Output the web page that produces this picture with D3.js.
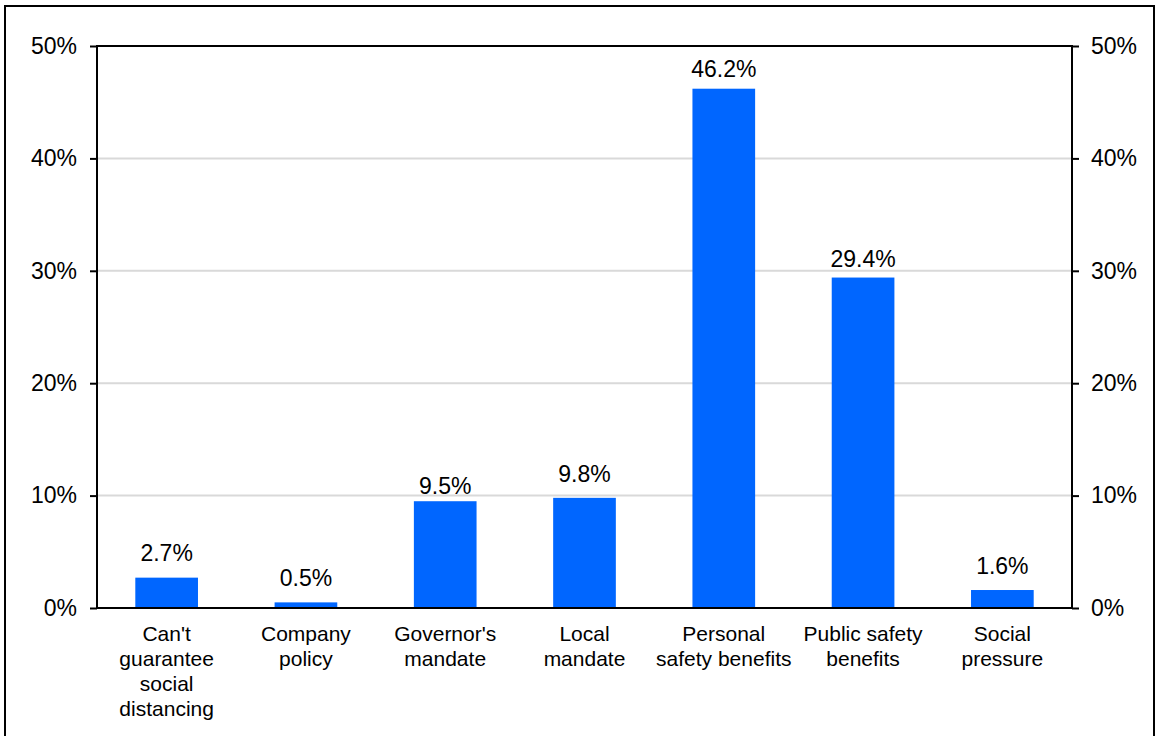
<!DOCTYPE html>
<html>
<head>
<meta charset="utf-8">
<script src="https://cdn.jsdelivr.net/npm/d3@7"></script>
<style>
  html, body { margin: 0; padding: 0; background: #fff; }
  svg { display: block; }
  text { font-family: "Liberation Sans", Arial, sans-serif; fill: #000; }
</style>
</head>
<body>
<svg id="chart" width="1159" height="736"></svg>
<script>
// Reasons given, share of respondents (%)
const categories = [
  ["Can't", "guarantee", "social", "distancing"],
  ["Company", "policy"],
  ["Governor's", "mandate"],
  ["Local", "mandate"],
  ["Personal", "safety benefits"],
  ["Public safety", "benefits"],
  ["Social", "pressure"]
];
const values = [2.7, 0.5, 9.5, 9.8, 46.2, 29.4, 1.6];
const tickValues = [0, 10, 20, 30, 40, 50];
// Space between each value label's baseline and its bar top (px)
const labelGap = [17, 16, 7, 16, 12, 11, 16];

const svg = d3.select("#chart");
const H = 736;
const m = { left: 97, right: 1072, top: 46, bottom: 608 };

// Outer frame
svg.append("rect")
  .attr("x", 5).attr("y", 6)
  .attr("width", 1149).attr("height", H)
  .attr("fill", "none").attr("stroke", "#000").attr("stroke-width", 2);

const x = d3.scaleBand()
  .domain(d3.range(categories.length))
  .range([m.left, m.right])
  .paddingInner(0.55).paddingOuter(0.275);

const y = d3.scaleLinear().domain([0, 50]).range([m.bottom, m.top]);

// Horizontal gridlines
svg.append("g").selectAll("line")
  .data(tickValues.filter(t => t > 0 && t < 50))
  .join("line")
  .attr("x1", m.left).attr("x2", m.right)
  .attr("y1", d => y(d)).attr("y2", d => y(d))
  .attr("stroke", "#d9d9d9").attr("stroke-width", 2);

// Bars
svg.append("g").selectAll("rect")
  .data(values)
  .join("rect")
  .attr("x", (d, i) => x(i))
  .attr("width", x.bandwidth())
  .attr("y", d => y(d))
  .attr("height", d => y(0) - y(d))
  .attr("fill", "#0066ff");

// Value labels
svg.append("g").selectAll("text")
  .data(values)
  .join("text")
  .attr("x", (d, i) => x(i) + x.bandwidth() / 2)
  .attr("y", (d, i) => y(d) - labelGap[i])
  .attr("text-anchor", "middle")
  .attr("font-size", 23)
  .text(d => d.toFixed(1) + "%");

// Plot frame
svg.append("rect")
  .attr("x", m.left).attr("y", m.top)
  .attr("width", m.right - m.left).attr("height", m.bottom - m.top)
  .attr("fill", "none").attr("stroke", "#000").attr("stroke-width", 2);

// Left and right value axes
const fmt = d => d + "%";
const leftAxis = svg.append("g")
  .attr("transform", `translate(${m.left},0)`)
  .call(d3.axisLeft(y).tickValues(tickValues).tickFormat(fmt).tickSize(7).tickPadding(13));
const rightAxis = svg.append("g")
  .attr("transform", `translate(${m.right},0)`)
  .call(d3.axisRight(y).tickValues(tickValues).tickFormat(fmt).tickSize(7).tickPadding(12));
[leftAxis, rightAxis].forEach(g => {
  g.select(".domain").remove();
  g.selectAll(".tick line").attr("stroke", "#000").attr("stroke-width", 2);
  g.selectAll(".tick text")
    .attr("font-size", 23)
    .attr("font-family", "'Liberation Sans', Arial, sans-serif")
    .attr("fill", "#000");
});

// Category labels
const cat = svg.append("g").selectAll("text")
  .data(categories)
  .join("text")
  .attr("x", (d, i) => x(i) + x.bandwidth() / 2)
  .attr("y", m.bottom + 33)
  .attr("text-anchor", "middle")
  .attr("font-size", 21);
cat.selectAll("tspan")
  .data(d => d)
  .join("tspan")
  .attr("x", function () { return d3.select(this.parentNode).attr("x"); })
  .attr("dy", (d, i) => i === 0 ? 0 : 25)
  .text(d => d);
</script>
</body>
</html>
